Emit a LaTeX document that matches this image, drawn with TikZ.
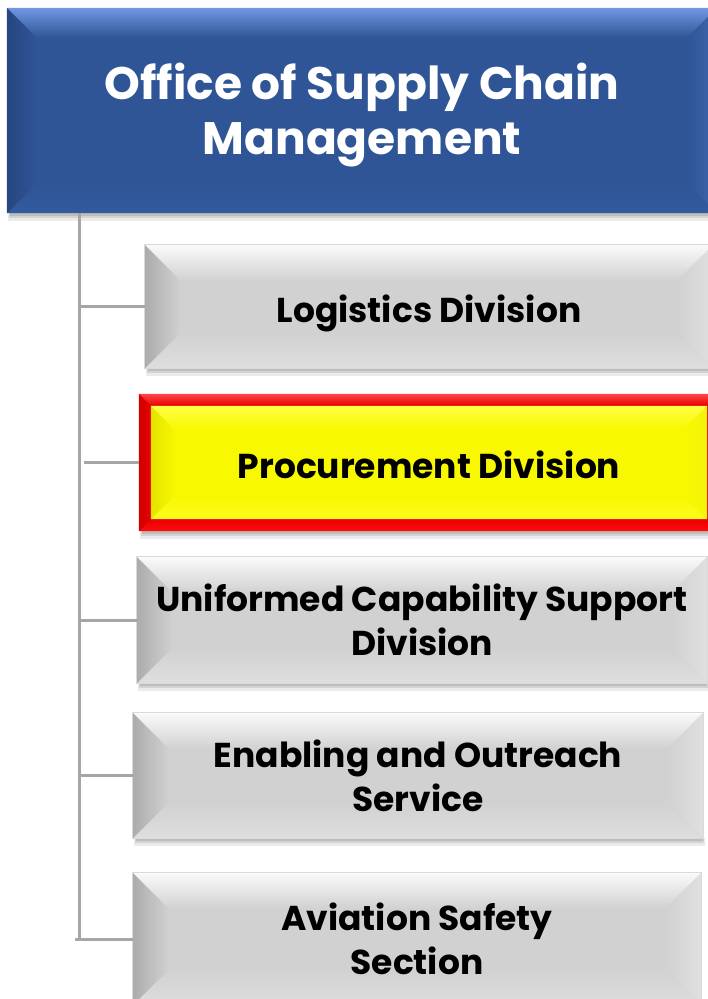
\documentclass[tikz,border=0pt]{standalone}
\usepackage{fontspec}
\setmainfont{Poppins}
\usetikzlibrary{calc,backgrounds}
\definecolor{graybase}{RGB}{209,209,209}
\definecolor{graytop}{RGB}{250,250,250}
\definecolor{grayleft}{RGB}{172,172,172}
\definecolor{grayright}{RGB}{224,224,224}
\definecolor{graybot}{RGB}{222,222,222}
\definecolor{blubase}{RGB}{47,85,151}
\definecolor{blutop}{RGB}{112,152,226}
\definecolor{bluleft}{RGB}{38,70,128}
\definecolor{bluright}{RGB}{62,102,172}
\definecolor{blubot}{RGB}{50,90,158}
\definecolor{redbase}{RGB}{232,0,0}
\definecolor{redtop}{RGB}{255,70,70}
\definecolor{redleft}{RGB}{205,0,0}
\definecolor{redright}{RGB}{240,0,0}
\definecolor{redbot}{RGB}{255,12,12}
\definecolor{yelbase}{RGB}{248,248,0}
\definecolor{yeltop}{RGB}{255,255,70}
\definecolor{yelleft}{RGB}{228,228,0}
\definecolor{yelright}{RGB}{244,244,12}
\definecolor{yelbot}{RGB}{252,252,30}
\definecolor{linegray}{RGB}{166,166,166}
\newcommand{\grayfont}{\fontsize{34.5}{44}\selectfont\bfseries}
\newcommand{\titlefont}{\fontsize{45.5}{55}\selectfont\bfseries}
\newcommand{\lowered}[2]{\raisebox{-#1}[\height][\depth]{#2}}
\newcommand{\bevelfill}[7]{%
  \fill[#3] (#1.north west) rectangle (#1.south east);
  \shade[top color=#4, bottom color=#3] (#1.north west) -- (#1.north east) -- ($(#1.north east)+(-#2,#2)$) -- ($(#1.north west)+(#2,#2)$) -- cycle;
  \shade[top color=#3, bottom color=#7] (#1.south west) -- ($(#1.south west)+(#2,-#2)$) -- ($(#1.south east)+(-#2,-#2)$) -- (#1.south east) -- cycle;
  \shade[left color=#5, right color=#3] (#1.north west) -- ($(#1.north west)+(#2,#2)$) -- ($(#1.south west)+(#2,-#2)$) -- (#1.south west) -- cycle;
  \shade[left color=#3, right color=#6] (#1.north east) -- ($(#1.north east)+(-#2,#2)$) -- ($(#1.south east)+(-#2,-#2)$) -- (#1.south east) -- cycle;
}
\newcommand{\boxshadow}[1]{%
  \fill[black,opacity=0.08] ($(#1.south west)+(1,0)$) rectangle ($(#1.south east)+(2,8)$);
  \fill[black,opacity=0.10] ($(#1.south west)+(2,0)$) rectangle ($(#1.south east)+(1,5)$);
  \fill[black,opacity=0.10] ($(#1.south west)+(3,0)$) rectangle ($(#1.south east)+(0,2.5)$);
}
\tikzset{
  boxnode/.style={rectangle, inner sep=0pt, align=center, font=\grayfont, text=black},
  titlenode/.style={rectangle, inner sep=0pt, align=center, font=\titlefont, text=white},
  conn/.style={draw=linegray, line width=3pt}
}
\begin{document}
\begin{tikzpicture}[x=1pt,y=-1pt]
\useasboundingbox (0,0) rectangle (708,999);
% nodes
\node[titlenode, minimum width=710pt, minimum height=205pt] (top) at (362,110.5) {\lowered{5pt}{\begin{tabular}{@{}c@{}}Office of Supply Chain\\Management\end{tabular}}};
\node[boxnode, minimum width=568pt, minimum height=123pt] (log) at (429,306.5) {\lowered{7pt}{Logistics Division}};
\node[boxnode, minimum width=580pt, minimum height=137pt] (proc) at (429,462.5) {};
\node[boxnode, minimum width=556pt, minimum height=113pt] (procin) at (proc.center) {\lowered{2pt}{Procurement Division}};
\node[boxnode, minimum width=570pt, minimum height=126pt] (ucs) at (422,620) {Uniformed Capability Support\\Division};
\node[boxnode, minimum width=570pt, minimum height=125pt] (eos) at (418,775.5) {Enabling and Outreach\\Service};
\node[boxnode, minimum width=568pt, minimum height=132pt] (avi) at (417,939) {Aviation Safety\\Section};
\coordinate (trunk) at (79,0);
% backgrounds
\begin{pgfonlayer}{background}
  \boxshadow{top}
  \bevelfill{top}{30}{blubase}{blutop}{bluleft}{bluright}{blubot}
  \foreach \n in {log,ucs,eos,avi}{
    \boxshadow{\n}
    \bevelfill{\n}{36}{graybase}{graytop}{grayleft}{grayright}{graybot}
    \draw[graybase!80!white, line width=0.8pt] (\n.north west) rectangle (\n.south east);
  }
  \boxshadow{proc}
  \bevelfill{proc}{12}{redbase}{redtop}{redleft}{redright}{redbot}
  \bevelfill{procin}{24}{yelbase}{yeltop}{yelleft}{yelright}{yelbot}
  % connectors
  \draw[conn] (top.south -| trunk) -- (avi.west -| trunk);
  \draw[conn] (log.west) -- (log.west -| trunk);
  \draw[conn] (proc.west) -- ($(proc.west -| trunk)+(5,0)$);
  \draw[conn] (ucs.west) -- (ucs.west -| trunk);
  \draw[conn] (eos.west) -- (eos.west -| trunk);
  \draw[conn] (avi.west) -- ($(avi.west -| trunk)+(-4,0)$);
\end{pgfonlayer}
\end{tikzpicture}
\end{document}
